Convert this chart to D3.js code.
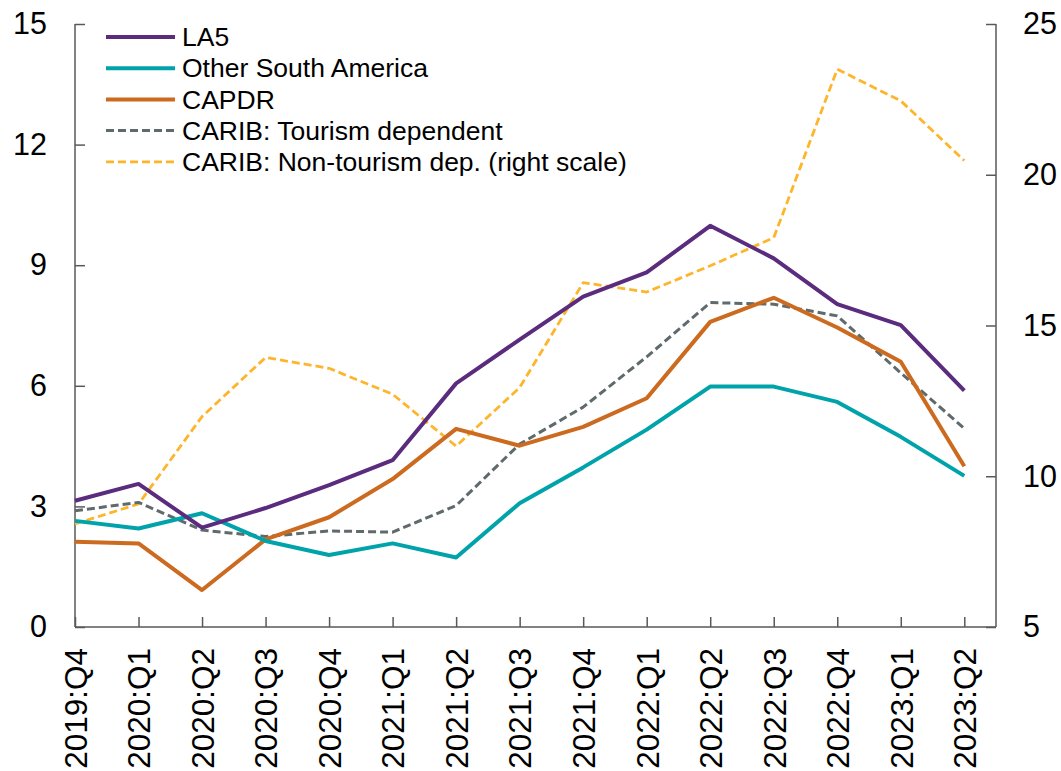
<!DOCTYPE html>
<html>
<head>
<meta charset="utf-8">
<script src="https://cdn.jsdelivr.net/npm/d3@7"></script>
<style>
  html, body { margin: 0; padding: 0; background: #fff; }
  svg { display: block; font-family: "Liberation Sans", Arial, sans-serif; }
</style>
</head>
<body>
<svg id="chart" width="1061" height="771"></svg>
<script>
const categories = ["2019:Q4","2020:Q1","2020:Q2","2020:Q3","2020:Q4","2021:Q1","2021:Q2","2021:Q3","2021:Q4","2022:Q1","2022:Q2","2022:Q3","2022:Q4","2023:Q1","2023:Q2"];
const la5 =        [3.14, 3.56, 2.47, 2.96, 3.53, 4.15, 6.06, 7.15, 8.22, 8.82, 9.98, 9.17, 8.03, 7.51, 5.88];
const otherSA =    [2.64, 2.45, 2.83, 2.14, 1.79, 2.08, 1.73, 3.08, 3.97, 4.91, 5.98, 5.98, 5.60, 4.73, 3.76];
const capdr =      [2.12, 2.08, 0.92, 2.18, 2.73, 3.68, 4.93, 4.51, 4.98, 5.69, 7.59, 8.19, 7.45, 6.60, 4.00];
const caribTour =  [2.89, 3.10, 2.41, 2.25, 2.39, 2.36, 3.02, 4.55, 5.47, 6.72, 8.07, 8.03, 7.74, 6.32, 4.94];
const caribNonTour=[8.42, 9.08, 11.98, 13.94, 13.58, 12.72, 11.00, 12.94, 16.42, 16.11, 16.98, 17.91, 23.50, 22.45, 20.47];
const leftTicks = [0, 3, 6, 9, 12, 15];
const rightTicks = [5, 10, 15, 20, 25];
const legendLabels = ["LA5", "Other South America", "CAPDR", "CARIB: Tourism dependent", "CARIB: Non-tourism dep. (right scale)"];

const series = [
  {name: legendLabels[0], values: la5, color: "#5B2C7D", width: 4, dash: null, axis: "left"},
  {name: legendLabels[1], values: otherSA, color: "#00A3AA", width: 4, dash: null, axis: "left"},
  {name: legendLabels[2], values: capdr, color: "#CC6A1F", width: 4, dash: null, axis: "left"},
  {name: legendLabels[3], values: caribTour, color: "#5F6A6C", width: 3, dash: "8,4", axis: "left"},
  {name: legendLabels[4], values: caribNonTour, color: "#FDB52B", width: 2.8, dash: "8,4", axis: "right"}
];

const svg = d3.select("#chart");
const pLeft = 75, pRight = 996, pTop = 24, pBottom = 627;
const x = d3.scalePoint().domain(categories).range([pLeft, 964.3]);
const yL = d3.scaleLinear().domain([0, 15]).range([pBottom, pTop]);
const yR = d3.scaleLinear().domain([5, 25]).range([pBottom, pTop]);
const axisColor = "#595959";

// Axes
const gL = svg.append("g").attr("transform", `translate(${pLeft},0)`)
  .call(d3.axisLeft(yL).tickValues(leftTicks).tickSize(-10).tickPadding(28));
const gR = svg.append("g").attr("transform", `translate(${pRight},0)`)
  .call(d3.axisRight(yR).tickValues(rightTicks).tickSize(-10).tickPadding(27));
const gB = svg.append("g").attr("transform", `translate(0,${pBottom})`)
  .call(d3.axisBottom(x).tickSize(-10).tickSizeOuter(0));
[gL, gR, gB].forEach(g => {
  g.select(".domain").remove();
  g.selectAll(".tick line").attr("stroke", axisColor).attr("stroke-width", 1.5);
  g.selectAll("text").attr("fill", "#000").style("font-size", "30.5px")
    .style("font-family", '"Liberation Sans", Arial, sans-serif');
});
gB.selectAll(".tick text")
  .attr("transform", "rotate(-90)")
  .attr("text-anchor", "end")
  .attr("x", -21)
  .attr("y", 0)
  .attr("dy", "0.36em")
  .style("font-size", "31.5px");

// Axis lines
svg.append("line").attr("x1", pLeft).attr("x2", pLeft).attr("y1", pTop).attr("y2", pBottom)
  .attr("stroke", axisColor).attr("stroke-width", 1.5);
svg.append("line").attr("x1", pRight).attr("x2", pRight).attr("y1", pTop).attr("y2", pBottom)
  .attr("stroke", axisColor).attr("stroke-width", 1.5);
svg.append("line").attr("x1", pLeft).attr("x2", pRight).attr("y1", pBottom).attr("y2", pBottom)
  .attr("stroke", axisColor).attr("stroke-width", 1.5);

// Lines
const drawOrder = [4, 3, 2, 1, 0];
drawOrder.forEach(i => {
  const s = series[i];
  const yS = s.axis === "left" ? yL : yR;
  const line = d3.line().x((d, j) => x(categories[j])).y(d => yS(d));
  svg.append("path").datum(s.values)
    .attr("d", line)
    .attr("fill", "none")
    .attr("stroke", s.color)
    .attr("stroke-width", s.width)
    .attr("stroke-linejoin", "round")
    .attr("stroke-dasharray", s.dash);
});

// Legend
const legend = svg.append("g");
series.forEach((s, i) => {
  const yy = 37 + i * 31.2;
  legend.append("line").attr("x1", 106).attr("x2", 175).attr("y1", yy).attr("y2", yy)
    .attr("stroke", s.color).attr("stroke-width", s.width).attr("stroke-dasharray", s.dash);
  legend.append("text").attr("x", 182).attr("y", yy).attr("dy", "0.35em")
    .style("font-size", "26.5px").attr("fill", "#000").text(s.name);
});
</script>
</body>
</html>
